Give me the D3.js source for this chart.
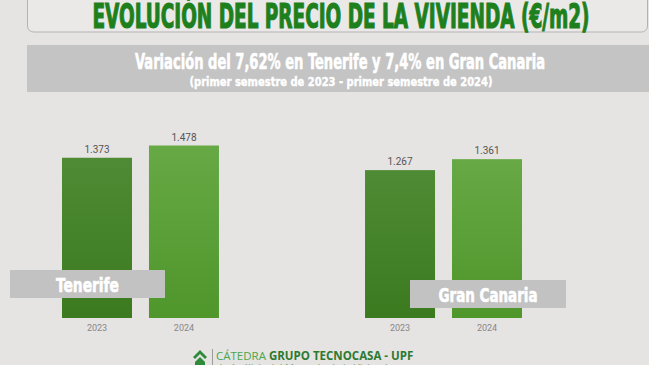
<!DOCTYPE html>
<html>
<head>
<meta charset="utf-8">
<script src="https://cdn.jsdelivr.net/npm/d3@7"></script>
<style>
  html, body { margin: 0; padding: 0; background: #e6e3e3; overflow: hidden; }
  svg { display: block; }
</style>
</head>
<body>
<script>
// Data
var regions = ["Tenerife", "Gran Canaria"];
var years = ["2023", "2024"];
var values2023 = [1373, 1267];
var values2024 = [1478, 1361];
var valueLabels2023 = ["1.373", "1.267"];
var valueLabels2024 = ["1.478", "1.361"];

var titleText = "EVOLUCIÓN DEL PRECIO DE LA VIVIENDA (€/m2)";
var subtitleText = "Variación del 7,62% en Tenerife y 7,4% en Gran Canaria";
var subtitleText2 = "(primer semestre de 2023 - primer semestre de 2024)";

var width = 649, height = 365;
var condensed = "'Liberation Sans Narrow', 'DejaVu Sans Condensed', sans-serif";

var svg = d3.select("body")
    .append("svg")
    .attr("width", width)
    .attr("height", height);

// Gradients for the two years
var defs = svg.append("defs");
var grads = [
    {id: "g2023", top: "#4e8b34", bottom: "#3c7a20"},
    {id: "g2024", top: "#67a945", bottom: "#4f962b"}
];
grads.forEach(function(g) {
    var lg = defs.append("linearGradient")
        .attr("id", g.id)
        .attr("x1", 0).attr("y1", 0).attr("x2", 0).attr("y2", 1);
    lg.append("stop").attr("offset", "0%").attr("stop-color", g.top);
    lg.append("stop").attr("offset", "100%").attr("stop-color", g.bottom);
});

// Background
svg.append("rect")
    .attr("width", width)
    .attr("height", height)
    .attr("fill", "#e6e3e3");

// Title box
svg.append("rect")
    .attr("x", 27.5)
    .attr("y", -10)
    .attr("width", 620)
    .attr("height", 42)
    .attr("rx", 6)
    .attr("fill", "#ebe8e8")
    .attr("stroke", "#b3b3b3");

svg.append("text")
    .attr("x", 341)
    .attr("y", 28)
    .attr("text-anchor", "middle")
    .attr("textLength", 497)
    .attr("lengthAdjust", "spacingAndGlyphs")
    .style("font-family", condensed)
    .style("font-weight", "bold")
    .style("font-size", "34px")
    .style("fill", "#1d801d")
    .style("stroke", "#1d801d")
    .style("stroke-width", 1.2)
    .text(titleText);

// Subtitle band
svg.append("rect")
    .attr("x", 27)
    .attr("y", 45)
    .attr("width", 622)
    .attr("height", 47)
    .attr("fill", "#c4c4c4");

svg.append("text")
    .attr("x", 340)
    .attr("y", 69)
    .attr("text-anchor", "middle")
    .attr("textLength", 410)
    .attr("lengthAdjust", "spacingAndGlyphs")
    .style("font-family", condensed)
    .style("font-weight", "bold")
    .style("font-size", "21px")
    .style("fill", "#ffffff")
    .style("stroke", "#ffffff")
    .style("stroke-width", 0.6)
    .text(subtitleText);

svg.append("text")
    .attr("x", 341)
    .attr("y", 86)
    .attr("text-anchor", "middle")
    .attr("textLength", 303)
    .attr("lengthAdjust", "spacingAndGlyphs")
    .style("font-family", condensed)
    .style("font-weight", "bold")
    .style("font-size", "13px")
    .style("fill", "#ffffff")
    .style("stroke", "#ffffff")
    .style("stroke-width", 0.4)
    .text(subtitleText2);

// Scales
var baseline = 318;
var xGroup = d3.scaleBand()
    .domain(regions)
    .range([62, 522])
    .paddingInner(0.482)
    .paddingOuter(0);

var xYear = d3.scaleBand()
    .domain(years)
    .range([0, xGroup.bandwidth()])
    .paddingInner(0.195);

var yScale = d3.scaleLinear()
    .domain([0, 1478])
    .range([baseline, baseline - 172.5]);

var data = [];
regions.forEach(function(r, i) {
    data.push({region: r, year: years[0], value: values2023[i], label: valueLabels2023[i]});
    data.push({region: r, year: years[1], value: values2024[i], label: valueLabels2024[i]});
});

var bars = svg.append("g").attr("class", "bars");

bars.selectAll(".bar")
    .data(data)
    .enter()
    .append("rect")
    .attr("class", "bar")
    .attr("x", function(d) { return xGroup(d.region) + xYear(d.year); })
    .attr("width", xYear.bandwidth())
    .attr("y", function(d) { return yScale(d.value); })
    .attr("height", function(d) { return baseline - yScale(d.value); })
    .attr("fill", function(d) { return "url(#g" + d.year + ")"; });

bars.selectAll(".value-label")
    .data(data)
    .enter()
    .append("text")
    .attr("class", "value-label")
    .attr("x", function(d) { return xGroup(d.region) + xYear(d.year) + xYear.bandwidth() / 2; })
    .attr("y", function(d) { return yScale(d.value) - 5; })
    .attr("text-anchor", "middle")
    .style("font-family", "Roboto, sans-serif")
    .style("font-size", "10px")
    .style("fill", "#555")
    .text(function(d) { return d.label; });

bars.selectAll(".year-label")
    .data(data)
    .enter()
    .append("text")
    .attr("class", "year-label")
    .attr("x", function(d) { return xGroup(d.region) + xYear(d.year) + xYear.bandwidth() / 2; })
    .attr("y", baseline + 13)
    .attr("text-anchor", "middle")
    .style("font-family", "Roboto, sans-serif")
    .style("font-size", "9px")
    .style("fill", "#888")
    .text(function(d) { return d.year; });

// Region name boxes
var boxes = [
    {x: 10, y: 270, w: 155, h: 28, textLen: 63},
    {x: 410, y: 280, w: 156, h: 28, textLen: 99}
];
regions.forEach(function(r, i) {
    var b = boxes[i];
    svg.append("rect")
        .attr("x", b.x)
        .attr("y", b.y)
        .attr("width", b.w)
        .attr("height", b.h)
        .attr("fill", "#c2c2c2");
    svg.append("text")
        .attr("x", b.x + b.w / 2)
        .attr("y", b.y + 22)
        .attr("text-anchor", "middle")
        .attr("textLength", b.textLen)
        .attr("lengthAdjust", "spacingAndGlyphs")
        .style("font-family", condensed)
        .style("font-weight", "bold")
        .style("font-size", "20px")
        .style("fill", "#ffffff")
        .style("stroke", "#ffffff")
        .style("stroke-width", 0.6)
        .text(r);
});

// Footer logo
var footer = svg.append("g").attr("class", "footer");
footer.append("path")
    .attr("d", "M193,357 L200,350 L207,357 L205,359 L200,354 L195,359 Z")
    .attr("fill", "#2f8a3a");
footer.append("path")
    .attr("d", "M195,362 L200,357 L205,362 L205,366 L195,366 Z")
    .attr("fill", "#2f8a3a");
footer.append("line")
    .attr("x1", 212.5).attr("x2", 212.5)
    .attr("y1", 349).attr("y2", 365)
    .attr("stroke", "#9c9c9c");

var ft = footer.append("text")
    .attr("x", 216)
    .attr("y", 360)
    .style("font-family", "'Open Sans', sans-serif")
    .style("font-size", "11.5px");
ft.append("tspan")
    .style("fill", "#4aa64a")
    .text("CÁTEDRA ");
ft.append("tspan")
    .style("fill", "#2b7a30")
    .style("font-weight", "bold")
    .text("GRUPO TECNOCASA - UPF");

footer.append("text")
    .attr("x", 216)
    .attr("y", 372)
    .style("font-family", "'Open Sans', sans-serif")
    .style("font-size", "10px")
    .style("fill", "#6aa86a")
    .text("de Análisis del Mercado de la Vivienda");
</script>
</body>
</html>
